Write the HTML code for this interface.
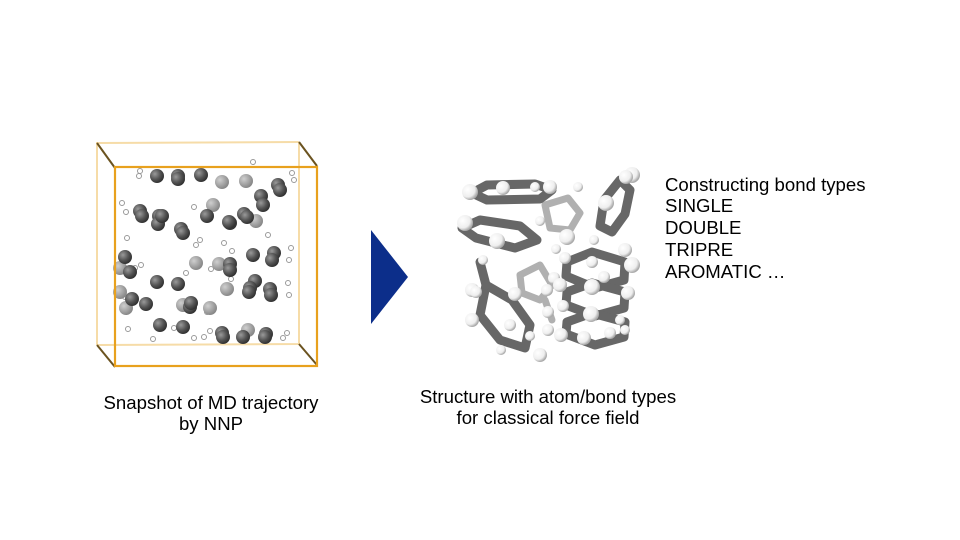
<!DOCTYPE html>
<html><head><meta charset="utf-8"><style>
body{margin:0;background:#fff;}
svg{display:block}
text{font-family:"Liberation Sans",Arial,sans-serif;font-size:18.6px;fill:#000}
</style></head><body>
<svg width="960" height="540" viewBox="0 0 960 540" xmlns="http://www.w3.org/2000/svg">
<defs>
<radialGradient id="dk" cx="35%" cy="35%" r="65%"><stop offset="0" stop-color="#9a9a9a"/><stop offset="0.6" stop-color="#555"/><stop offset="1" stop-color="#333"/></radialGradient>
<radialGradient id="md" cx="35%" cy="35%" r="65%"><stop offset="0" stop-color="#cfcfcf"/><stop offset="1" stop-color="#888"/></radialGradient>
<radialGradient id="wh" cx="35%" cy="35%" r="65%"><stop offset="0" stop-color="#fff"/><stop offset="0.7" stop-color="#eee"/><stop offset="1" stop-color="#aaa"/></radialGradient>
</defs>
<g fill="none" stroke-width="2">
<polyline points="97,345 97,143 299,142" stroke="#f6dca8"/>
<polyline points="97,345 299,344 299,142" stroke="#f6dca8" />
<line x1="97" y1="143" x2="115" y2="168" stroke="#6b5320"/>
<line x1="299" y1="142" x2="317" y2="166" stroke="#6b5320"/>
<line x1="97" y1="345" x2="115" y2="367" stroke="#6b5320"/>
<line x1="299" y1="344" x2="317" y2="365" stroke="#6b5320"/>
</g>
<g fill="#fff" stroke="#999" stroke-width="1">
<circle cx="140" cy="171" r="2.5"/><circle cx="139" cy="176" r="2.5"/><circle cx="253" cy="162" r="2.5"/><circle cx="292" cy="173" r="2.5"/><circle cx="294" cy="180" r="2.5"/>
<circle cx="122" cy="203" r="2.5"/><circle cx="126" cy="212" r="2.5"/><circle cx="194" cy="207" r="2.5"/><circle cx="127" cy="238" r="2.5"/><circle cx="196" cy="245" r="2.5"/>
<circle cx="200" cy="240" r="2.5"/><circle cx="224" cy="243" r="2.5"/><circle cx="268" cy="235" r="2.5"/><circle cx="291" cy="248" r="2.5"/><circle cx="232" cy="251" r="2.5"/>
<circle cx="135" cy="268" r="2.5"/><circle cx="141" cy="265" r="2.5"/><circle cx="186" cy="273" r="2.5"/><circle cx="211" cy="269" r="2.5"/><circle cx="231" cy="279" r="2.5"/>
<circle cx="289" cy="260" r="2.5"/><circle cx="288" cy="283" r="2.5"/><circle cx="207" cy="312" r="2.5"/><circle cx="125" cy="297" r="2.5"/><circle cx="289" cy="295" r="2.5"/>
<circle cx="128" cy="329" r="2.5"/><circle cx="153" cy="339" r="2.5"/><circle cx="174" cy="328" r="2.5"/><circle cx="194" cy="338" r="2.5"/><circle cx="204" cy="337" r="2.5"/><circle cx="210" cy="331" r="2.5"/><circle cx="283" cy="338" r="2.5"/><circle cx="287" cy="333" r="2.5"/><circle cx="121" cy="292" r="2.5"/>
</g>
<g fill="url(#md)">
<circle cx="222" cy="182" r="7"/><circle cx="246" cy="181" r="7"/><circle cx="213" cy="205" r="7"/><circle cx="256" cy="221" r="7"/><circle cx="196" cy="263" r="7"/>
<circle cx="120" cy="268" r="7"/><circle cx="219" cy="264" r="7"/><circle cx="120" cy="292" r="7"/><circle cx="227" cy="289" r="7"/><circle cx="183" cy="305" r="7"/><circle cx="210" cy="308" r="7"/><circle cx="126" cy="308" r="7"/><circle cx="248" cy="330" r="7"/>
</g>
<g fill="url(#dk)">
<circle cx="157" cy="176" r="7"/><circle cx="178" cy="176" r="7"/><circle cx="201" cy="175" r="7"/><circle cx="178" cy="179" r="7"/>
<circle cx="278" cy="185" r="7"/><circle cx="280" cy="190" r="7"/><circle cx="261" cy="196" r="7"/><circle cx="263" cy="205" r="7"/>
<circle cx="140" cy="211" r="7"/><circle cx="142" cy="216" r="7"/><circle cx="159" cy="216" r="7"/><circle cx="181" cy="229" r="7"/><circle cx="183" cy="233" r="7"/>
<circle cx="244" cy="214" r="7"/><circle cx="247" cy="217" r="7"/><circle cx="230" cy="223" r="7"/><circle cx="158" cy="224" r="7"/>
<circle cx="162" cy="216" r="7"/><circle cx="229" cy="222" r="7"/>
<circle cx="230" cy="264" r="7"/><circle cx="230" cy="270" r="7"/>
<circle cx="125" cy="257" r="7"/>
<circle cx="253" cy="255" r="7"/><circle cx="274" cy="253" r="7"/><circle cx="272" cy="260" r="7"/>
<circle cx="130" cy="272" r="7"/><circle cx="157" cy="282" r="7"/><circle cx="178" cy="284" r="7"/><circle cx="255" cy="281" r="7"/><circle cx="250" cy="288" r="7"/><circle cx="249" cy="292" r="7"/>
<circle cx="132" cy="299" r="7"/><circle cx="146" cy="304" r="7"/><circle cx="190" cy="307" r="7"/><circle cx="191" cy="303" r="7"/><circle cx="270" cy="289" r="7"/><circle cx="271" cy="295" r="7"/>
<circle cx="160" cy="325" r="7"/><circle cx="183" cy="327" r="7"/><circle cx="222" cy="333" r="7"/><circle cx="223" cy="337" r="7"/><circle cx="243" cy="337" r="7"/><circle cx="266" cy="334" r="7"/><circle cx="265" cy="337" r="7"/>
<circle cx="207" cy="216" r="7"/>
</g>
<rect x="115" y="167" width="202" height="199" fill="none" stroke="#e8a11e" stroke-width="2.2"/>
<polygon points="371,230 408,277 371,324" fill="#0c2e8a"/>
<!-- molecule -->
<g stroke-linejoin="round" stroke-linecap="round" fill="none">
<g stroke="#b0b0b0" stroke-width="7">
<polygon points="545,205 568,198 580,213 570,230 550,228"/>
<polygon points="520,275 540,265 552,285 540,300 522,293"/>
<line x1="545" y1="300" x2="552" y2="320"/>
</g>
<g stroke="#676767" stroke-width="9">
<polygon points="472,193 487,185 535,184 552,190 540,199 487,200"/>
<polygon points="462,228 480,220 520,226 537,240 515,248 476,238"/>
<polygon points="600,226 604,200 620,180 630,190 625,214 612,232"/>
<polygon points="567,262 592,252 625,262 624,280 595,288 566,276"/>
<polygon points="567,292 592,283 625,292 624,308 595,316 566,305"/>
<polygon points="567,322 592,313 625,322 624,337 595,345 566,334"/>
<polygon points="486,285 480,315 500,340 525,348 530,325 512,300"/>
<line x1="480" y1="262" x2="486" y2="285"/>
</g>
</g>
<g fill="url(#wh)">
<circle cx="470" cy="192" r="8"/><circle cx="503" cy="188" r="7"/><circle cx="550" cy="187" r="7"/><circle cx="578" cy="187" r="5"/><circle cx="632" cy="175" r="8"/><circle cx="606" cy="203" r="8"/><circle cx="626" cy="177" r="7"/>
<circle cx="540" cy="221" r="5"/><circle cx="465" cy="223" r="8"/><circle cx="497" cy="241" r="8"/><circle cx="567" cy="237" r="8"/><circle cx="594" cy="240" r="5"/><circle cx="535" cy="187" r="5"/>
<circle cx="483" cy="260" r="5"/><circle cx="556" cy="249" r="5"/><circle cx="565" cy="258" r="6"/><circle cx="625" cy="250" r="7"/><circle cx="632" cy="265" r="8"/><circle cx="592" cy="262" r="6"/>
<circle cx="472" cy="290" r="7"/><circle cx="515" cy="294" r="7"/><circle cx="547" cy="290" r="6"/><circle cx="592" cy="287" r="8"/><circle cx="604" cy="277" r="6"/><circle cx="628" cy="293" r="7"/>
<circle cx="554" cy="278" r="6"/><circle cx="548" cy="312" r="6"/><circle cx="591" cy="314" r="8"/><circle cx="620" cy="320" r="5"/><circle cx="560" cy="285" r="7"/>
<circle cx="472" cy="320" r="7"/><circle cx="548" cy="330" r="6"/><circle cx="561" cy="335" r="7"/><circle cx="584" cy="338" r="7"/><circle cx="610" cy="333" r="6"/><circle cx="625" cy="330" r="5"/><circle cx="563" cy="306" r="6"/>
<circle cx="501" cy="350" r="5"/><circle cx="540" cy="355" r="7"/><circle cx="510" cy="325" r="6"/><circle cx="530" cy="336" r="5"/><circle cx="476" cy="292" r="6"/>
</g>
<text x="211" y="409" text-anchor="middle">Snapshot of MD trajectory</text>
<text x="211" y="430" text-anchor="middle">by NNP</text>
<text x="548" y="403" text-anchor="middle">Structure with atom/bond types</text>
<text x="548" y="424" text-anchor="middle">for classical force field</text>
<text x="665" y="191">Constructing bond types</text>
<text x="665" y="212">SINGLE</text>
<text x="665" y="234">DOUBLE</text>
<text x="665" y="256">TRIPRE</text>
<text x="665" y="278">AROMATIC …</text>
</svg>
</body></html>
